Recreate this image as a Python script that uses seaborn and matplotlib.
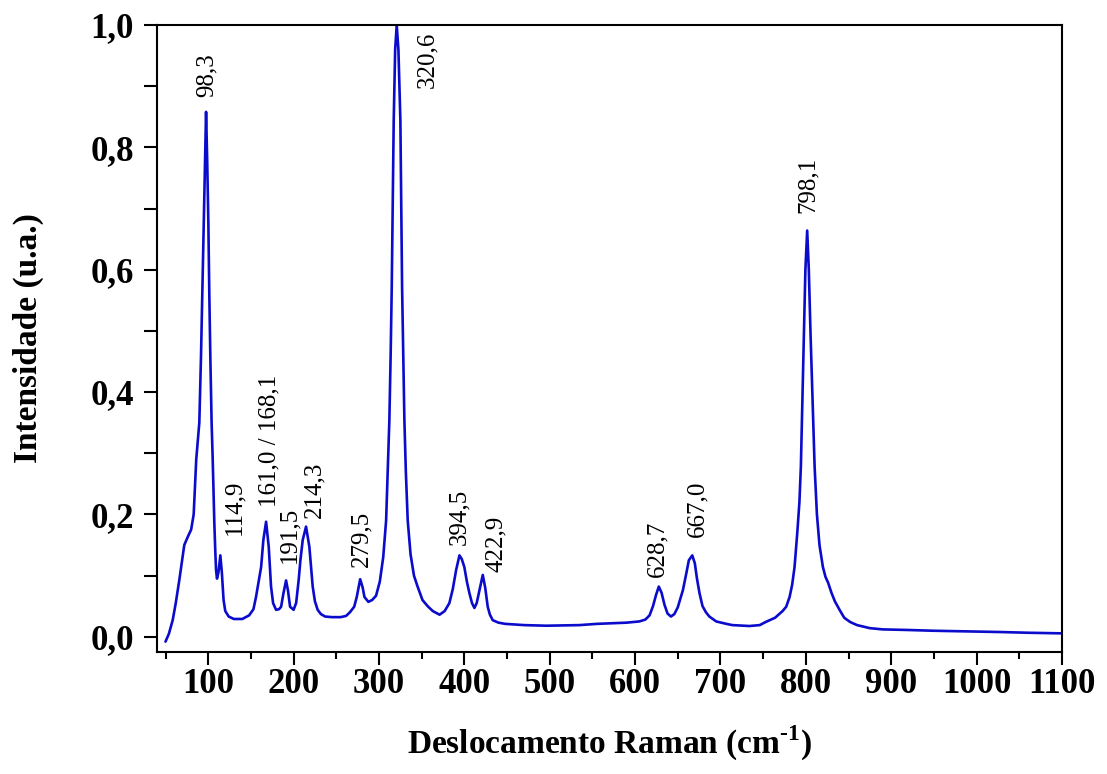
import numpy as np
import pandas as pd
import matplotlib
matplotlib.use("Agg")
import matplotlib.pyplot as plt
import seaborn as sns
from matplotlib.ticker import MultipleLocator, FuncFormatter

# ---- Data ----
shift = [50, 54, 58.4, 62, 66.2, 70, 72, 76, 80, 83, 86, 89.6, 91.6, 93.2, 94.7,
         96.2, 97.5, 98.8, 100.2, 101.3, 102.5, 104, 105.2, 106.2, 107.2, 108.3,
         109.2, 110.3, 112, 114.2, 116, 118, 120, 124,
         130, 140, 148, 153, 156, 159, 162, 164.6, 167.8, 170.9, 173.6, 176, 179.5,
         183, 185.4, 188, 191.2, 193.5, 195.9, 200, 203, 206, 208, 210.7, 214.6,
         218.5, 222.4, 225, 228.2, 232, 237, 245, 255, 261.5, 266, 271, 274, 278,
         281, 283, 287.6, 292, 296.6, 301, 305, 308.4, 310.5, 312.2, 313.7, 315,
         316.2, 317.3, 319, 320.8, 322.8, 325.1, 326.1, 327.1, 328.5, 329.8, 331.5,
         333.7, 337, 341, 345, 351, 357, 363, 371, 377, 382.5, 386.5, 390.4, 394.3,
         397, 400, 403, 406, 409, 411.8, 414.5, 417.7, 421.6, 424.5, 427.4, 430,
         433.3, 440, 448, 470, 496, 535, 555, 573.5, 590, 605, 612, 617, 621, 624.5,
         627.8, 631, 634.5, 638, 642, 646, 650, 653, 656, 659.5, 663, 667, 670,
         672.5, 675.5, 679, 683, 687, 695, 707, 714, 734, 746, 753.6, 764, 772.8,
         777, 781, 784, 786.8, 790, 792.5, 794.2, 796, 797.7, 799.5, 801.6, 803.5,
         805.5, 808, 810.3, 813, 816, 820, 823, 826.2, 830, 834, 839.5, 845, 852,
         860, 875, 890, 920, 948.7, 1000, 1027, 1060, 1097, 1100]
intensity = [-0.008, 0.005, 0.027, 0.055, 0.093, 0.13, 0.15, 0.163, 0.175, 0.2, 0.29,
             0.35, 0.46, 0.57, 0.675, 0.78, 0.858, 0.78, 0.675, 0.56, 0.4575, 0.35,
             0.294, 0.24, 0.185, 0.14, 0.109, 0.095, 0.105, 0.133, 0.105, 0.06, 0.042,
             0.033,
             0.029, 0.029, 0.035, 0.045, 0.065, 0.09, 0.114, 0.158, 0.188, 0.147,
             0.082, 0.055, 0.044, 0.045, 0.049, 0.07, 0.092, 0.075, 0.049, 0.044,
             0.055, 0.093, 0.125, 0.158, 0.18, 0.147, 0.082, 0.058, 0.044, 0.037,
             0.033, 0.032, 0.032, 0.034, 0.04, 0.049, 0.065, 0.094, 0.08, 0.065,
             0.057, 0.06, 0.067, 0.09, 0.13, 0.19, 0.28, 0.354, 0.46, 0.572, 0.71,
             0.844, 0.96, 1.0, 0.96, 0.844, 0.71, 0.572, 0.46, 0.354, 0.27, 0.19,
             0.135, 0.1, 0.083, 0.06, 0.05, 0.042, 0.036, 0.042, 0.055, 0.078, 0.109,
             0.133, 0.127, 0.114, 0.09, 0.071, 0.055, 0.047, 0.055, 0.076, 0.101,
             0.08, 0.049, 0.036, 0.027, 0.023, 0.021, 0.019, 0.018, 0.019, 0.021,
             0.022, 0.023, 0.025, 0.028, 0.035, 0.05, 0.068, 0.082, 0.072, 0.052,
             0.038, 0.033, 0.037, 0.048, 0.062, 0.076, 0.1, 0.125, 0.133, 0.12,
             0.095, 0.071, 0.05, 0.04, 0.033, 0.025, 0.021, 0.019, 0.0175, 0.019,
             0.0245, 0.031, 0.042, 0.049, 0.065, 0.085, 0.114, 0.17, 0.22, 0.278,
             0.39, 0.496, 0.6, 0.664, 0.6, 0.496, 0.38, 0.278, 0.2, 0.15, 0.114,
             0.098, 0.088, 0.072, 0.058, 0.044, 0.031, 0.024, 0.019, 0.014, 0.012,
             0.011, 0.0098, 0.0085, 0.0077, 0.0065, 0.0055, 0.0055]

peak_labels = ["98,3", "114,9", "161,0 / 168,1", "191,5", "214,3", "279,5", "320,6",
               "394,5", "422,9", "628,7", "667,0", "798,1"]
label_x = [98, 130.6, 171.6, 195, 224.4, 279, 356, 394.3, 437, 626.6, 673.5, 802.4]
label_y = [0.882, 0.166, 0.212, 0.12, 0.194, 0.114, 0.897, 0.15, 0.106, 0.098, 0.163, 0.692]

x_ticks = list(range(100, 1101, 100))
y_ticks = [0.0, 0.2, 0.4, 0.6, 0.8, 1.0]

df = pd.DataFrame({"shift": shift, "intensity": intensity})

sns.set_theme(style="ticks")
plt.rcParams["font.family"] = ["Liberation Serif", "DejaVu Serif"]
plt.rcParams["text.color"] = "black"
plt.rcParams["axes.labelcolor"] = "black"
plt.rcParams["mathtext.fontset"] = "custom"
plt.rcParams["mathtext.rm"] = "Liberation Serif:bold"
plt.rcParams["mathtext.bf"] = "Liberation Serif:bold"

fig = plt.figure(figsize=(11.07, 7.74), dpi=100)
ax = fig.add_axes([0.1418, 0.1576, 0.8175, 0.8101])

sns.lineplot(data=df, x="shift", y="intensity", ax=ax, color="#0b0bcc",
             linewidth=1.9, estimator=None, sort=False)

ax.set_xlim(40, 1100)
ax.set_ylim(-0.025, 1.0)
ax.set_xticks(x_ticks)
ax.set_yticks(y_ticks)
ax.xaxis.set_minor_locator(MultipleLocator(50))
ax.yaxis.set_minor_locator(MultipleLocator(0.1))
ax.yaxis.set_major_formatter(FuncFormatter(lambda v, p: f"{v:.1f}".replace(".", ",")))

for side in ["left", "bottom", "top", "right"]:
    ax.spines[side].set_visible(True)
    ax.spines[side].set_linewidth(1.5)
    ax.spines[side].set_color("black")

ax.tick_params(which="major", direction="out", length=9.5, width=1.5, colors="black",
               labelsize=25, top=False, right=False)
ax.tick_params(axis="y", which="major", pad=7)
ax.tick_params(axis="x", which="major", pad=2)
ax.tick_params(axis="x", which="minor", direction="out", length=5, width=1.5,
               colors="black", top=False)
ax.tick_params(axis="y", which="minor", direction="out", length=9.5, width=1.5,
               colors="black", right=False)
for lab in ax.get_xticklabels() + ax.get_yticklabels():
    lab.set_fontweight("bold")

ax.set_xlabel(r"Deslocamento Raman (cm$^{\text{-1}}$)", fontsize=24, fontweight="bold")
ax.set_ylabel("Intensidade (u.a.)", fontsize=24, fontweight="bold")
ax.xaxis.set_label_coords(0.5, -0.115)
ax.yaxis.set_label_coords(-0.125, 0.5)

for t, xx, yy in zip(peak_labels, label_x, label_y):
    ax.text(xx, yy, t, rotation=90, ha="center", va="bottom", fontsize=18, color="black")

fig.savefig("out.png", dpi=100, facecolor="white")
